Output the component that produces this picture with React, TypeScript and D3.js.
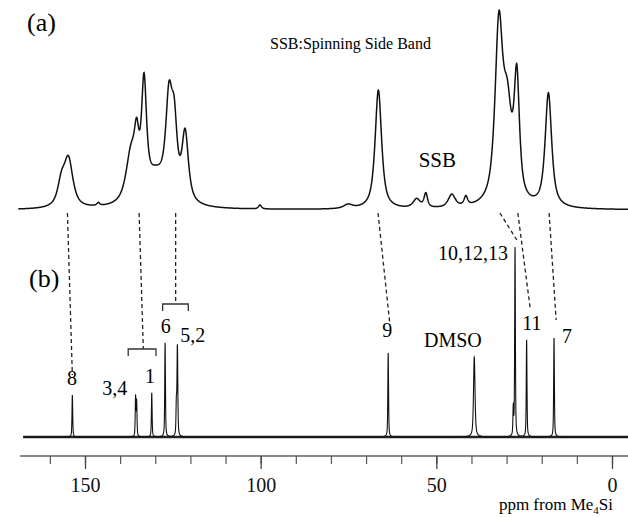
import React, { useEffect, useRef } from 'react';
import * as d3 from 'd3';

// (a) solid state spectrum: peak position (ppm), height, half width (ppm)
const peaksA = [
  [156.7, 22, 1.3],
  [154.7, 47, 1.5],
  [146.2, 3, 0.5],
  [136.9, 48, 1.7],
  [135.3, 45, 0.8],
  [133.2, 108, 0.85],
  [129.8, 28, 3.5],
  [126.1, 91, 1.1],
  [124.6, 66, 1.0],
  [121.5, 68, 1.1],
  [100.2, 4, 0.5],
  [75.1, 4, 1.5],
  [66.5, 119, 1.1],
  [55.6, 9, 1.2],
  [53.0, 14, 0.6],
  [45.6, 13, 1.2],
  [41.6, 9, 0.6],
  [32.2, 173, 1.3],
  [29.8, 86, 1.5],
  [27.1, 118, 0.9],
  [18.1, 114, 1.1],
];

// (b) solution spectrum
const peaksB = [
  [153.6, 42, 0.12],
  [135.6, 39, 0.12],
  [135.3, 34, 0.12],
  [131.0, 44, 0.12],
  [127.2, 94, 0.12],
  [124.0, 30, 0.12],
  [123.7, 90, 0.14],
  [63.7, 84, 0.12],
  [39.2, 80, 0.25],
  [28.1, 27, 0.12],
  [27.6, 189, 0.12],
  [24.3, 97, 0.12],
  [16.5, 99, 0.12],
];

// assignment labels in (b): text, ppm, height of baseline
const labelsB = [
  ['8', 153.7, 52],
  ['3,4', 141.5, 42],
  ['1', 131.5, 54],
  ['6', 127.0, 104],
  ['5,2', 119.3, 95],
  ['9', 64.0, 100],
  ['DMSO', 45.3, 90],
  ['11', 22.8, 107],
  ['7', 12.8, 94],
];
const label101213 = ['10,12,13', 29.6, 177];

// dashed correlation lines: ppm in (a), ppm in (b), end height in (b)
const links = [
  [155.0, 153.6, 62],
  [134.6, 133.4, 88],
  [124.2, 124.2, 133],
  [66.6, 63.2, 112],
  [31.9, 27.1, 197],
  [26.8, 23.3, 129],
  [17.9, 15.9, 117],
];

// brackets: from ppm, to ppm, height
const brackets = [
  [137.7, 129.8, 88],
  [127.9, 120.6, 133],
];

const majorTicks = [150, 100, 50, 0];
const minorTicks = d3.range(0, 161, 10);

const W = 628;
const H = 517;
const serif = "'Liberation Serif', 'Times New Roman', serif";

function shape(ppm: number, peaks: number[][], eta: number) {
  let s = 0;
  for (const [p, h, w] of peaks) {
    const d = (ppm - p) / w;
    s += h * (eta / (1 + d * d) + (1 - eta) * Math.exp(-Math.LN2 * d * d));
  }
  return s;
}

export default function App() {
  const ref = useRef<SVGSVGElement>(null);

  useEffect(() => {
    const svg = d3.select(ref.current);
    svg.selectAll('*').remove();

    const x = d3.scaleLinear().domain([150, 0]).range([85, 612]);
    const yA = d3.scaleLinear().domain([0, 200]).range([210, 10]);
    const yB = d3.scaleLinear().domain([0, 200]).range([437, 237]);

    const gridA = d3.range(169, -5, -0.05);
    const gridB = d3.range(167.6, -5, -0.01);

    const lineA = d3.line<number>()
      .x(p => x(p))
      .y(p => yA(shape(p, peaksA, 0.8)));
    const lineB = d3.line<number>()
      .x(p => x(p))
      .y(p => yB(shape(p, peaksB, 0.6)));

    svg.append('path')
      .attr('d', lineA(gridA))
      .attr('fill', 'none')
      .attr('stroke', '#111')
      .attr('stroke-width', 1.5);

    svg.append('line')
      .attr('x1', x(167.6)).attr('x2', W)
      .attr('y1', yB(0)).attr('y2', yB(0))
      .attr('stroke', '#222')
      .attr('stroke-width', 2.4);

    svg.append('path')
      .attr('d', lineB(gridB))
      .attr('fill', 'none')
      .attr('stroke', '#111')
      .attr('stroke-width', 1.1);

    // dashed lines
    svg.selectAll('.link')
      .data(links)
      .enter()
      .append('line')
      .attr('x1', d => x(d[0]))
      .attr('y1', yA(-3))
      .attr('x2', d => x(d[1]))
      .attr('y2', d => yB(d[2]))
      .attr('stroke', '#222')
      .attr('stroke-width', 1.3)
      .attr('stroke-dasharray', '4,3');

    // brackets
    svg.selectAll('.bracket')
      .data(brackets)
      .enter()
      .append('path')
      .attr('d', d => {
        const y0 = yB(d[2]);
        return `M${x(d[0])},${y0 + 7}V${y0}H${x(d[1])}V${y0 + 7}`;
      })
      .attr('fill', 'none')
      .attr('stroke', '#333')
      .attr('stroke-width', 1.3);

    // labels
    svg.selectAll('.lab')
      .data(labelsB)
      .enter()
      .append('text')
      .attr('x', d => x(d[1] as number))
      .attr('y', d => yB(d[2] as number))
      .attr('text-anchor', 'middle')
      .attr('font-family', serif)
      .attr('font-size', 20)
      .text(d => d[0] as string);

    svg.append('text')
      .attr('x', x(label101213[1] as number))
      .attr('y', yB(label101213[2] as number))
      .attr('text-anchor', 'end')
      .attr('font-family', serif)
      .attr('font-size', 20)
      .text(label101213[0] as string);

    svg.append('text')
      .attr('x', x(49.7))
      .attr('y', yA(43))
      .attr('text-anchor', 'middle')
      .attr('font-family', serif)
      .attr('font-size', 21)
      .text('SSB');

    svg.append('text')
      .attr('x', 270).attr('y', 49)
      .attr('font-family', serif)
      .attr('font-size', 16)
      .text('SSB:Spinning Side Band');

    svg.append('text')
      .attr('x', 27).attr('y', 31)
      .attr('font-family', serif)
      .attr('font-size', 26)
      .text('(a)');
    svg.append('text')
      .attr('x', 29).attr('y', 287)
      .attr('font-family', serif)
      .attr('font-size', 26)
      .text('(b)');

    // axis
    const axisY = 456;
    svg.append('line')
      .attr('x1', x(168.5)).attr('x2', W)
      .attr('y1', axisY).attr('y2', axisY)
      .attr('stroke', '#888')
      .attr('stroke-width', 2);

    const minor = svg.append('g')
      .attr('transform', `translate(0,${axisY})`)
      .call(d3.axisBottom(x).tickValues(minorTicks).tickSize(8).tickFormat(() => ''));
    minor.select('.domain').remove();
    minor.selectAll('line').attr('stroke', '#555').attr('stroke-width', 1.2);

    const major = svg.append('g')
      .attr('transform', `translate(0,${axisY})`)
      .call(d3.axisBottom(x).tickValues(majorTicks).tickSize(13).tickPadding(9).tickFormat(d3.format('d')));
    major.select('.domain').remove();
    major.selectAll('line').attr('stroke', '#444').attr('stroke-width', 1.3);
    major.selectAll('text')
      .attr('font-family', serif)
      .attr('font-size', 20)
      .attr('fill', '#111');

    const unit = svg.append('text')
      .attr('x', 613).attr('y', 510)
      .attr('text-anchor', 'end')
      .attr('font-family', serif)
      .attr('font-size', 17);
    unit.append('tspan').text('ppm from Me');
    unit.append('tspan').attr('font-size', 11).attr('dy', 4).text('4');
    unit.append('tspan').attr('dy', -4).text('Si');
  }, []);

  return (
    <svg
      ref={ref}
      width={W}
      height={H}
      style={{ position: 'absolute', left: 0, top: 0, background: '#fff' }}
    />
  );
}
